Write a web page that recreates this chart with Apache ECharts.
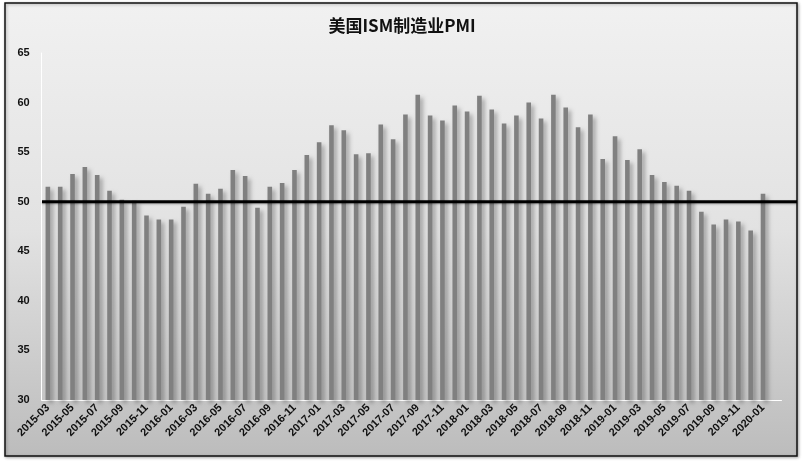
<!DOCTYPE html>
<html>
<head>
<meta charset="utf-8">
<script src="https://cdn.jsdelivr.net/npm/echarts@6/dist/echarts.min.js"></script>
<style>html,body{margin:0;padding:0;background:#fff;}#c{width:804px;height:463px;}</style>
</head>
<body>
<div id="c"></div>
<script>
// Months (last entry is an empty category present in the source axis)
var months = ['2015-03','2015-04','2015-05','2015-06','2015-07','2015-08','2015-09','2015-10','2015-11','2015-12',
'2016-01','2016-02','2016-03','2016-04','2016-05','2016-06','2016-07','2016-08','2016-09','2016-10','2016-11','2016-12',
'2017-01','2017-02','2017-03','2017-04','2017-05','2017-06','2017-07','2017-08','2017-09','2017-10','2017-11','2017-12',
'2018-01','2018-02','2018-03','2018-04','2018-05','2018-06','2018-07','2018-08','2018-09','2018-10','2018-11','2018-12',
'2019-01','2019-02','2019-03','2019-04','2019-05','2019-06','2019-07','2019-08','2019-09','2019-10','2019-11','2019-12',
'2020-01',''];
var pmi = [51.5,51.5,52.8,53.5,52.7,51.1,50.2,50.1,48.6,48.2,
48.2,49.5,51.8,50.8,51.3,53.2,52.6,49.4,51.5,51.9,53.2,54.7,
56.0,57.7,57.2,54.8,54.9,57.8,56.3,58.8,60.8,58.7,58.2,59.7,
59.1,60.7,59.3,57.9,58.7,60.0,58.4,60.8,59.5,57.5,58.8,54.3,
56.6,54.2,55.3,52.7,52.0,51.6,51.1,49.0,47.7,48.2,48.0,47.1,
50.8];
var threshold = 50;
var yTicks = {min: 30, max: 65, interval: 5};
var title = '美国ISM制造业PMI';

var chart = echarts.init(document.getElementById('c'));
chart.setOption({
  animation: false,
  backgroundColor: '#ffffff',
  graphic: [{
    type: 'rect', z: -10, silent: true,
    shape: {x: 5, y: 3, width: 792, height: 453},
    style: {
      fill: new echarts.graphic.LinearGradient(0, 0, 0, 1, [
        {offset: 0, color: '#f1f1f1'}, {offset: 0.5, color: '#e2e2e2'}, {offset: 1, color: '#bcbcbc'}
      ]),
      stroke: '#111', lineWidth: 1.5,
      shadowColor: 'rgba(0,0,0,0.3)', shadowBlur: 3, shadowOffsetX: 1, shadowOffsetY: 1
    }
  }],
  title: {
    text: title, left: 'center', top: 12,
    textStyle: {fontFamily: 'Noto Sans CJK SC', fontWeight: 'bold', fontSize: 17, color: '#111'}
  },
  grid: [
    {left: 41.7, right: 22.5, top: 53, bottom: 63},
    {left: 42, right: 7, top: 53, bottom: 63}
  ],
  xAxis: [{
    type: 'category', data: months, gridIndex: 0,
    axisLine: {lineStyle: {color: '#ffffff', width: 1}},
    axisTick: {interval: 1, length: 4, lineStyle: {color: '#ffffff'}},
    axisLabel: {interval: 1, rotate: 45, margin: 6, color: '#111', fontSize: 11, fontWeight: 'bold', fontFamily: 'Liberation Sans'},
    splitLine: {show: false}
  }, {
    type: 'value', gridIndex: 1, min: 0, max: 1, show: false
  }],
  yAxis: [{
    type: 'value', gridIndex: 0, min: yTicks.min, max: yTicks.max, interval: yTicks.interval,
    axisLine: {show: true, lineStyle: {color: '#ffffff', width: 1}},
    axisTick: {show: false},
    axisLabel: {margin: 12, color: '#111', fontSize: 11, fontWeight: 'bold', fontFamily: 'Liberation Sans'},
    splitLine: {show: false}
  }, {
    type: 'value', gridIndex: 1, min: yTicks.min, max: yTicks.max, show: false
  }],
  series: [{
    type: 'bar', xAxisIndex: 0, yAxisIndex: 0, data: pmi, barWidth: 4.6,
    itemStyle: {
      color: '#808080',
      shadowColor: 'rgba(0,0,0,0.3)', shadowBlur: 4, shadowOffsetX: 3, shadowOffsetY: 3
    }
  }, {
    type: 'line', xAxisIndex: 1, yAxisIndex: 1, data: [[0, threshold], [1, threshold]],
    symbol: 'none', z: 5,
    lineStyle: {color: '#000', width: 3, shadowColor: 'rgba(0,0,0,0.3)', shadowBlur: 2, shadowOffsetY: 1}
  }]
});
</script>
</body>
</html>
